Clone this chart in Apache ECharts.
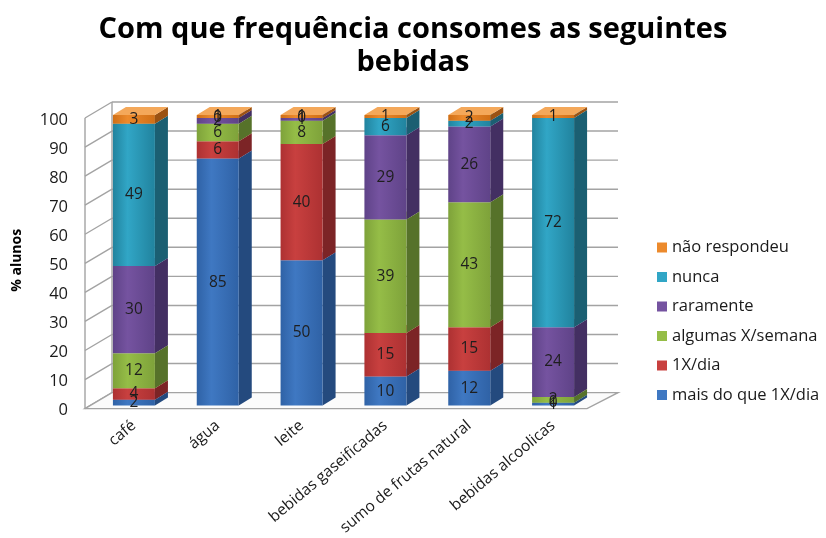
<!DOCTYPE html>
<html>
<head>
<meta charset="utf-8">
<script src="https://cdn.jsdelivr.net/npm/echarts@6/dist/echarts.min.js"></script>
<style>
  html, body { margin: 0; padding: 0; background: #fff; }
  #chart { width: 826px; height: 538px; }
</style>
</head>
<body>
<div id="chart"></div>
<script>
// Drinks and how often students consume them (% of students)
const categories = ['café', 'água', 'leite', 'bebidas gaseificadas', 'sumo de frutas natural', 'bebidas alcoolicas'];
const maisQue1XDia   = [2, 85, 50, 10, 12, 1];
const umXDia         = [4, 6, 40, 15, 15, 0];
const algumasXSemana = [12, 6, 8, 39, 43, 2];
const raramente      = [30, 2, 1, 29, 26, 24];
const nunca          = [49, 0, 0, 6, 2, 72];
const naoRespondeu   = [3, 1, 1, 1, 2, 1];
const yTicks = [0, 10, 20, 30, 40, 50, 60, 70, 80, 90, 100];

// stacking order, bottom to top
const seriesDefs = [
  { name: 'mais do que 1X/dia', values: maisQue1XDia,   front: ['#3f78c2', '#2f62a6'], side: '#244a7e', top: '#5a8fd4' },
  { name: '1X/dia',             values: umXDia,         front: ['#c8403f', '#ad3132'], side: '#7c2426', top: '#d96463' },
  { name: 'algumas X/semana',   values: algumasXSemana, front: ['#95bd47', '#7ea23a'], side: '#56722a', top: '#adcf6a' },
  { name: 'raramente',          values: raramente,      front: ['#7553a0', '#5f4388'], side: '#432f62', top: '#8f72b6' },
  { name: 'nunca',              values: nunca,          front: ['#31a6c6', '#21839e'], side: '#1b5f72', top: '#5abdd8' },
  { name: 'não respondeu',      values: naoRespondeu,   front: ['#ec8a2c', '#d06f16'], side: '#9b5212', top: '#f4a85a' }
];

const BAR_W = 42;      // front face width
const BAR_DX = 13;     // bar depth, x
const BAR_DY = -8;     // bar depth, y
// walls: front plane and back plane offsets relative to the bar front plane
const FRONT_SHIFT = [-5, 3];
const BACK_SHIFT = [22, -13];
const WALL_COLOR = '#a3a3a3';

function stackData(idx) {
  return categories.map((c, i) => {
    let start = 0;
    for (let k = 0; k < idx; k++) start += seriesDefs[k].values[i];
    const v = seriesDefs[idx].values[i];
    return [i, start, start + v, v];
  });
}

function makeBarRender(def, sIdx) {
  return function (params, api) {
    const ci = api.value(0);
    const s = api.value(1), e = api.value(2), v = api.value(3);
    const cx = api.coord([ci, 0])[0];
    const y0 = api.coord([ci, s])[1];
    const y1 = api.coord([ci, e])[1];
    const x0 = cx - BAR_W / 2, x1 = cx + BAR_W / 2;
    const children = [];
    if (v > 0) {
      children.push({
        type: 'rect', z2: sIdx * 10 + 2,
        shape: { x: x0, y: y1, width: BAR_W, height: y0 - y1 },
        style: {
          fill: new echarts.graphic.LinearGradient(0, 0, 1, 0, [
            { offset: 0, color: def.front[1] },
            { offset: 0.35, color: def.front[0] },
            { offset: 1, color: def.front[1] }
          ])
        }
      });
      children.push({
        type: 'polygon', z2: sIdx * 10 + 1,
        shape: { points: [[x1, y0], [x1 + BAR_DX, y0 + BAR_DY], [x1 + BAR_DX, y1 + BAR_DY], [x1, y1]] },
        style: { fill: def.side }
      });
      children.push({
        type: 'polygon', z2: sIdx * 10 + 3,
        shape: { points: [[x0, y1], [x1, y1], [x1 + BAR_DX, y1 + BAR_DY], [x0 + BAR_DX, y1 + BAR_DY]] },
        style: { fill: def.top }
      });
    }
    children.push({
      type: 'text', z2: 1000,
      x: cx, y: (y0 + y1) / 2,
      style: {
        text: String(v), align: 'center', verticalAlign: 'middle',
        fontFamily: 'Open Sans', fontSize: 15.5, fill: '#1e1e1e'
      }
    });
    return { type: 'group', children: children };
  };
}

function renderWalls(params, api) {
  const cs = params.coordSys;
  const v = api.value(1);
  const yf = api.coord([0, v])[1];
  const fl = cs.x + FRONT_SHIFT[0] - 2;
  const bl = cs.x + BACK_SHIFT[0] - 2;
  const br = cs.x + cs.width + BACK_SHIFT[0] + 1;
  const fr = cs.x + cs.width + FRONT_SHIFT[0] - 3;
  const lineStyle = { stroke: WALL_COLOR, lineWidth: 1.4, fill: null };
  const children = [
    { type: 'line', shape: { x1: bl, y1: yf + BACK_SHIFT[1], x2: br, y2: yf + BACK_SHIFT[1] }, style: lineStyle },
    { type: 'line', shape: { x1: fl, y1: yf + FRONT_SHIFT[1], x2: bl, y2: yf + BACK_SHIFT[1] }, style: lineStyle }
  ];
  if (params.dataIndex === 0) {
    const yTop = api.coord([0, 100])[1];
    const y0 = yf;
    children.push({
      type: 'polygon',
      shape: { points: [[fl, y0 + FRONT_SHIFT[1]], [fr, y0 + FRONT_SHIFT[1]], [br, y0 + BACK_SHIFT[1]], [bl, y0 + BACK_SHIFT[1]]] },
      style: { fill: '#fbfbfb', stroke: WALL_COLOR, lineWidth: 1.4 }
    });
    children.push({ type: 'line', shape: { x1: fl, y1: y0 + FRONT_SHIFT[1], x2: fl, y2: yTop + FRONT_SHIFT[1] }, style: lineStyle });
    children.push({ type: 'line', shape: { x1: bl, y1: y0 + BACK_SHIFT[1], x2: bl, y2: yTop + BACK_SHIFT[1] }, style: lineStyle });
  }
  return { type: 'group', children: children };
}

const series = [{
  type: 'custom', name: 'walls', silent: true, z: 1,
  renderItem: renderWalls,
  data: yTicks.map(t => [0, t]),
  encode: { x: 0, y: 1 }
}];
seriesDefs.forEach((def, i) => {
  series.push({
    type: 'custom', name: def.name, z: 2,
    itemStyle: { color: def.front[0] },
    renderItem: makeBarRender(def, i),
    data: stackData(i),
    encode: { x: 0, y: [1, 2] }
  });
});

const chart = echarts.init(document.getElementById('chart'), null, { renderer: 'canvas' });
chart.setOption({
  animation: false,
  color: seriesDefs.map(d => d.front[0]),
  title: {
    text: 'Com que frequência consomes as seguintes\nbebidas',
    left: 'center', top: 8,
    textStyle: { fontFamily: 'Open Sans', fontWeight: 'bold', fontSize: 29, lineHeight: 33, color: '#000' }
  },
  legend: {
    orient: 'vertical', left: 652, top: 234,
    data: seriesDefs.map(d => d.name).reverse(),
    icon: 'rect', itemWidth: 10, itemHeight: 10, itemGap: 12.5,
    textStyle: { fontFamily: 'Open Sans', fontSize: 16.5, lineHeight: 16.5, color: '#1a1a1a' }
  },
  grid: { left: 92, right: 231, top: 115, bottom: 130 },
  xAxis: {
    type: 'category', data: categories,
    axisLine: { show: false }, axisTick: { show: false },
    axisLabel: { rotate: 40, margin: 18, interval: 0, fontFamily: 'Open Sans', fontSize: 15.5, color: '#1a1a1a' }
  },
  yAxis: {
    type: 'value', min: 0, max: 100, interval: 10,
    name: '% alunos', nameLocation: 'middle', nameGap: 68,
    nameTextStyle: { fontFamily: 'Open Sans', fontWeight: 'bold', fontSize: 14, color: '#000' },
    axisLine: { show: false }, axisTick: { show: false }, splitLine: { show: false },
    axisLabel: { margin: 24, verticalAlign: 'top', lineHeight: 10, fontFamily: 'Open Sans', fontSize: 16.5, color: '#1a1a1a' }
  },
  series: series
});
</script>
</body>
</html>
